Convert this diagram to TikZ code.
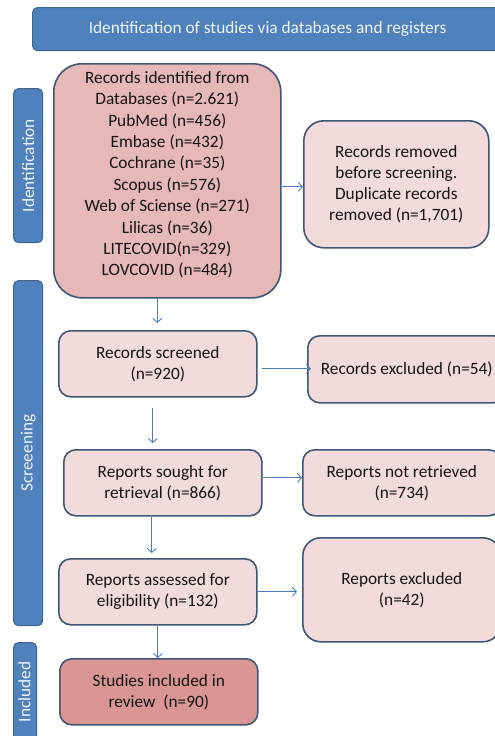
\documentclass[tikz,border=0pt]{standalone}
\usepackage{fontspec}
\setmainfont{Carlito}
\usetikzlibrary{arrows.meta,calc}
\definecolor{barblue}{HTML}{4F81BD}
\definecolor{barline}{HTML}{3A6794}
\definecolor{boxline}{HTML}{3F5675}
\definecolor{pinklight}{HTML}{F2DCDB}
\definecolor{pinkmid}{HTML}{E6B9B8}
\definecolor{pinkdark}{HTML}{D99694}
\definecolor{arrowblue}{HTML}{4A7EBB}
\definecolor{textdark}{HTML}{141414}
\tikzset{
  bluebar/.style={draw=barline, line width=1.2pt, fill=barblue, rounded corners=5pt, anchor=north west, inner sep=0pt},
  bartext/.style={text=white!92!barblue, rotate=90, font=\fontsize{17.3}{21}\selectfont},
  stagebox/.style={draw=boxline, line width=1.6pt, rounded corners=12pt, anchor=north west, inner sep=0pt, align=center, text=textdark, font=\fontsize{17.3}{21}\selectfont},
  plaintext/.style={align=center, text=textdark, inner sep=0pt, font=\fontsize{17.3}{21.4}\selectfont},
  flow/.style={draw=arrowblue, line width=0.9pt, -{Straight Barb[length=4pt,width=9pt]}}
}
\begin{document}
\begin{tikzpicture}[x=1pt,y=-1pt]
\useasboundingbox (0,0) rectangle (495,736);
% title bar
\node[bluebar, minimum width=470pt, minimum height=43pt, text=white!92!barblue, font=\fontsize{17.3}{21}\selectfont] (title) at (32,7) {Identification of studies via databases and registers};
% side bars
\node[bluebar, minimum width=29pt, minimum height=154pt] (idbar) at (13,88) {};
\node[bartext] (idtext) at (idbar.center) {Identification};
\node[bluebar, minimum width=29pt, minimum height=345pt] (scbar) at (13,280) {};
\node[bartext] (sctext) at (scbar.center) {Screeening};
\node[bluebar, minimum width=23pt, minimum height=120pt] (inbar) at (13,642) {};
\node[bartext] (intext) at (24.5,692) {Included};
% boxes
\node[stagebox, fill=pinkmid, rounded corners=28pt, minimum width=227pt, minimum height=234pt] (records) at (53,63) {};
\node[plaintext] (recordstext) at ([yshift=6pt]records.center)
  {Records identified from\\Databases (n=2.621)\\PubMed (n=456)\\Embase (n=432)\\Cochrane (n=35)\\Scopus (n=576)\\Web of Sciense (n=271)\\Lilicas (n=36)\\LITECOVID(n=329)\\LOVCOVID (n=484)};
\node[stagebox, fill=pinklight, rounded corners=20pt, minimum width=185pt, minimum height=127pt] (removed) at (303,120)
  {Records removed\\before screening.\\Duplicate records\\removed (n=1,701)};
\node[stagebox, fill=pinklight, minimum width=198pt, minimum height=66pt] (screened) at (58,330)
  {Records screened\\(n=920)};
\node[stagebox, fill=pinklight, minimum width=198pt, minimum height=67pt] (excl1) at (307,335)
  {Records excluded (n=54)};
\node[stagebox, fill=pinklight, minimum width=198pt, minimum height=66pt] (sought) at (63,449)
  {Reports sought for\\retrieval (n=866)};
\node[stagebox, fill=pinklight, minimum width=198pt, minimum height=66pt] (notret) at (302,449)
  {Reports not retrieved\\(n=734)};
\node[stagebox, fill=pinklight, minimum width=198pt, minimum height=66pt] (assessed) at (58,558)
  {Reports assessed for\\eligibility (n=132)};
\node[stagebox, fill=pinklight, rounded corners=18pt, minimum width=198pt, minimum height=104pt] (excl2) at (302,537)
  {Reports excluded\\(n=42)};
\node[stagebox, fill=pinkdark, minimum width=198pt, minimum height=66pt] (included) at (59,658)
  {Studies included in\\review\ \ (n=90)};
% connectors
\draw[flow] ([yshift=-6pt]records.east) -- ([yshift=-6pt]records.east -| removed.west);
\draw[flow] ([xshift=-10pt]records.south) -- ([xshift=-10pt,yshift=7pt]records.south |- screened.north);
\draw[flow] ([xshift=4pt,yshift=-5pt]screened.east) -- ([xshift=4pt,yshift=-5pt]screened.east -| excl1.west);
\draw[flow] ([xshift=-5pt,yshift=-10pt]screened.south) -- ([xshift=-5pt,yshift=6pt]screened.south |- sought.north);
\draw[flow] ([yshift=5pt]sought.east) -- ([yshift=5pt]sought.east -| notret.west);
\draw[flow] ([xshift=-11pt]sought.south) -- ([xshift=-11pt,yshift=5pt]sought.south |- assessed.north);
\draw[flow] (assessed.east) -- ([xshift=-5pt]assessed.east -| excl2.west);
\draw[flow] (assessed.south) -- (assessed.south |- included.north);
\end{tikzpicture}
\end{document}
